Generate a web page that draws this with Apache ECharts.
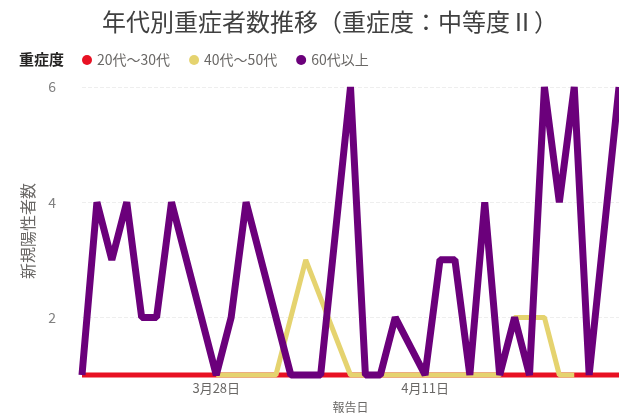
<!DOCTYPE html>
<html>
<head>
<meta charset="utf-8">
<script src="https://cdn.jsdelivr.net/npm/echarts@6/dist/echarts.min.js"></script>
<style>
html,body{margin:0;padding:0;background:#fff;}
#chart{width:619px;height:418px;}
</style>
</head>
<body>
<div id="chart"></div>
<script>
const titleText = '年代別重症者数推移（重症度：中等度Ⅱ）';
const legendTitle = '重症度';
const seriesNames = ['20代～30代', '40代～50代', '60代以上'];
const yAxisName = '新規陽性者数';
const xAxisName = '報告日';
const yTickValues = [2, 4, 6];
const xShownLabels = ['3月28日', '4月11日'];

const dates = [
  '3月19日','3月20日','3月21日','3月22日','3月23日','3月24日','3月25日','3月26日','3月27日','3月28日',
  '3月29日','3月30日','3月31日','4月1日','4月2日','4月3日','4月4日','4月5日','4月6日','4月7日',
  '4月8日','4月9日','4月10日','4月11日','4月12日','4月13日','4月14日','4月15日','4月16日','4月17日',
  '4月18日','4月19日','4月20日','4月21日','4月22日','4月23日','4月24日'
];

const age20to30 = [
  1,1,1,1,1,1,1,1,1,1,
  1,1,1,1,1,1,1,1,1,1,
  1,1,1,1,1,1,1,1,1,1,
  1,1,1,1,1,1,1
];

const age40to50 = [
  null,null,null,null,null,null,null,null,null,1,
  1,1,1,1,2,3,null,null,1,1,
  1,1,1,1,1,1,1,1,1,2,
  2,2,1,1,null,null,null
];

const age60plus = [
  1,4,3,4,2,2,4,null,null,1,
  2,4,null,null,1,1,1,null,6,1,
  1,2,null,1,3,3,1,4,1,2,
  1,6,4,6,1,null,6
];

const colors = ['#E81123', '#E5D36F', '#6B007B'];
const seriesData = [age20to30, age40to50, age60plus];
const widths = [5, 5, 7];

const chart = echarts.init(document.getElementById('chart'), null, {renderer: 'canvas'});
const font = '"Noto Sans CJK JP", "Noto Sans", sans-serif';

chart.setOption({
  animation: false,
  backgroundColor: '#ffffff',
  color: colors,
  title: [
    {
      text: titleText,
      left: 97,
      top: 5,
      textStyle: {fontFamily: font, fontSize: 24, fontWeight: 'normal', color: '#404040'}
    },
    {
      text: legendTitle,
      left: 14,
      top: 47,
      textStyle: {fontFamily: font, fontSize: 15, fontWeight: 'bold', color: '#252423'}
    }
  ],
  legend: {
    left: 77,
    top: 48,
    icon: 'circle',
    itemWidth: 10,
    itemHeight: 10,
    itemGap: 19,
    textStyle: {fontFamily: font, fontSize: 14, color: '#6a6866'},
    data: seriesNames
  },
  grid: {left: 82, right: 0, top: 87, bottom: 39, containLabel: false},
  xAxis: {
    type: 'category',
    data: dates,
    boundaryGap: false,
    name: xAxisName,
    nameLocation: 'middle',
    nameGap: 26,
    nameTextStyle: {fontFamily: font, fontSize: 12, color: '#6a6866'},
    axisLine: {show: false},
    axisTick: {show: false},
    splitLine: {show: false},
    axisLabel: {
      interval: function (index, value) { return xShownLabels.indexOf(value) >= 0; },
      fontFamily: font,
      fontSize: 13,
      color: '#6a6866',
      margin: 7
    }
  },
  yAxis: {
    type: 'value',
    min: 1,
    max: 6,
    name: yAxisName,
    nameLocation: 'middle',
    nameGap: 46,
    nameTextStyle: {fontFamily: font, fontSize: 16, color: '#6a6866'},
    axisLine: {show: false},
    axisTick: {show: false, customValues: yTickValues},
    axisLabel: {
      customValues: yTickValues,
      fontFamily: font,
      fontSize: 14,
      color: '#808080',
      margin: 26
    },
    splitLine: {show: true, lineStyle: {color: '#EEEEEE', width: 1, type: 'dashed'}}
  },
  series: seriesNames.map(function (name, i) {
    return {
      name: name,
      type: 'line',
      data: seriesData[i],
      showSymbol: false,
      symbol: 'none',
      connectNulls: true,
      clip: false,
      lineStyle: {width: widths[i], color: colors[i]},
      itemStyle: {color: colors[i]}
    };
  })
});
</script>
</body>
</html>
